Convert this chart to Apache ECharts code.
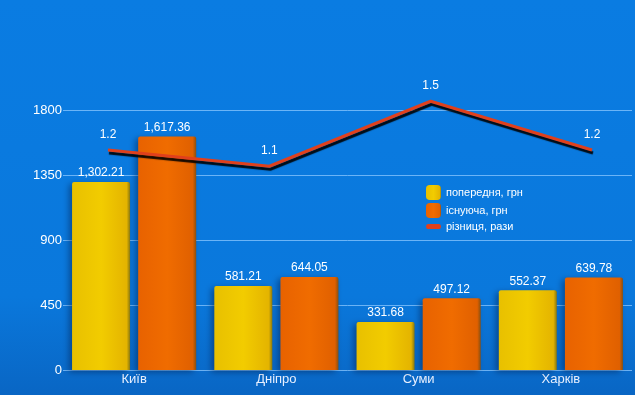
<!DOCTYPE html>
<html><head><meta charset="utf-8">
<script src="https://cdn.jsdelivr.net/npm/echarts@6/dist/echarts.min.js"></script>
<style>html,body{margin:0;padding:0;background:#0a7ce0}#c{width:635px;height:395px}</style>
</head><body><div id="c"></div>
<script>
const categories = ['Київ', 'Дніпро', 'Суми', 'Харків'];
const previousValues = [1302.21, 581.21, 331.68, 552.37];
const currentValues = [1617.36, 644.05, 497.12, 639.78];
const ratioValues = [1.2, 1.1, 1.5, 1.2];
const seriesNames = ['попередня, грн', 'існуюча, грн', 'різниця, рази'];
const yTicks = [0, 450, 900, 1350, 1800];

const fmt = v => v.toLocaleString('en-US', {minimumFractionDigits: 2, maximumFractionDigits: 2});
const font = '"Liberation Sans", Arial, sans-serif';
const chart = echarts.init(document.getElementById('c'), null, {renderer: 'canvas'});
chart.setOption({
  backgroundColor: {type: 'linear', x: 0, y: 0, x2: 0, y2: 1, colorStops: [
    {offset: 0, color: '#0a7ce2'}, {offset: 0.75, color: '#0a78dc'}, {offset: 1, color: '#0966c4'}]},
  animation: false,
  textStyle: {fontFamily: font},
  legend: {
    orient: 'vertical', left: 421, top: 180, itemWidth: 15, itemHeight: 15, itemGap: 3,
    textStyle: {color: '#fff', fontSize: 11, fontFamily: font},
    data: [
      {name: seriesNames[0], icon: 'roundRect'},
      {name: seriesNames[1], icon: 'roundRect'},
      {name: seriesNames[2], icon: 'path://M2,0 L13,0 Q15,0 15,2.5 Q15,5 13,5 L2,5 Q0,5 0,2.5 Q0,0 2,0 Z',
       itemStyle: {color: '#e0401c', opacity: 1}}
    ]
  },
  grid: [
    {left: 63, right: 3, top: 110, bottom: 25},
    {left: 108, right: 43, top: 85, bottom: 180}
  ],
  xAxis: [
    {type: 'category', gridIndex: 0, data: categories,
     axisLine: {show: false}, axisTick: {show: false},
     axisLabel: {color: '#e8f0ff', fontSize: 13, margin: 3, fontFamily: font}},
    {type: 'category', gridIndex: 1, data: categories, boundaryGap: false, show: false}
  ],
  yAxis: [
    {type: 'value', gridIndex: 0, min: yTicks[0], max: yTicks[yTicks.length - 1], interval: 450,
     axisLine: {show: false}, axisTick: {show: false},
     axisLabel: {color: '#fff', fontSize: 13, margin: 1, fontFamily: font, formatter: v => String(v)},
     splitLine: {lineStyle: {color: 'rgba(140,200,255,0.75)', width: 1}}},
    {type: 'value', gridIndex: 1, min: 0.8, max: 1.6, show: false, splitLine: {show: false}}
  ],
  series: [
    {name: seriesNames[0], type: 'bar', xAxisIndex: 0, yAxisIndex: 0, data: previousValues,
     barWidth: 58, barGap: '14%',
     itemStyle: {color: {type: 'linear', x: 0, y: 0, x2: 1, y2: 0, colorStops: [
       {offset: 0, color: '#e8c000'}, {offset: 0.5, color: '#f2cc00'}, {offset: 0.94, color: '#e4b400'}, {offset: 1, color: '#8a7a10'}]},
       borderRadius: [2, 2, 0, 0], shadowColor: 'rgba(0,20,60,0.45)', shadowBlur: 6, shadowOffsetX: -3, shadowOffsetY: 2},
     label: {show: true, position: 'top', distance: 3, color: '#fff', fontSize: 12, fontFamily: font, formatter: p => fmt(p.value)}},
    {name: seriesNames[1], type: 'bar', xAxisIndex: 0, yAxisIndex: 0, data: currentValues,
     barWidth: 58,
     itemStyle: {color: {type: 'linear', x: 0, y: 0, x2: 1, y2: 0, colorStops: [
       {offset: 0, color: '#e86200'}, {offset: 0.5, color: '#f06c00'}, {offset: 0.94, color: '#e06000'}, {offset: 1, color: '#8a5010'}]},
       borderRadius: [2, 2, 0, 0], shadowColor: 'rgba(0,20,60,0.45)', shadowBlur: 6, shadowOffsetX: -3, shadowOffsetY: 2},
     label: {show: true, position: 'top', distance: 3, color: '#fff', fontSize: 12, fontFamily: font, formatter: p => fmt(p.value)}},
    {name: seriesNames[2], type: 'line', xAxisIndex: 1, yAxisIndex: 1, data: ratioValues,
     symbol: 'circle', symbolSize: 1, showSymbol: true, z: 5, clip: false, color: '#e0401c',
     itemStyle: {color: 'rgba(0,0,0,0)', borderWidth: 0},
     lineStyle: {color: '#e0401c', width: 3, shadowColor: 'rgba(0,0,0,0.9)', shadowBlur: 1, shadowOffsetY: 3, shadowOffsetX: 1},
     label: {show: true, position: 'top', distance: 9, color: '#fff', fontSize: 12, fontFamily: font}}
  ]
});
</script></body></html>
